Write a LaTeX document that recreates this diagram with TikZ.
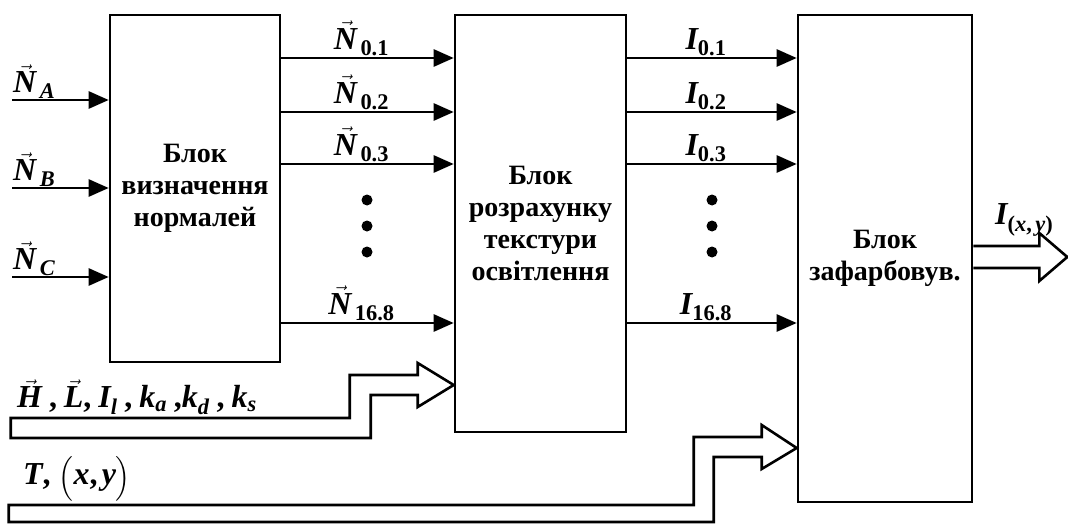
\documentclass[tikz,border=0pt]{standalone}
\usepackage{amsmath}
\usepackage{fontspec}
\setmainfont{Liberation Serif}
\usetikzlibrary{arrows.meta,positioning}
\tikzset{
  blok/.style={draw, line width=2.6pt, align=center, inner sep=0pt,
               font=\fontsize{28}{32}\selectfont\bfseries},
  strilka/.style={line width=2.6pt, -{Triangle[length=20pt,width=17pt]}},
  shyna/.style={line width=2.6pt, line join=miter},
  mitka/.style={font=\fontsize{32}{36}\selectfont, inner sep=1pt}
}
\newcommand\bi[1]{\text{\bfseries\itshape #1}}
\newcommand\bu[1]{\text{\bfseries\upshape #1}}
\newcommand\vbi[1]{\vec{\bi{#1}}}

\begin{document}
\begin{tikzpicture}[x=1pt,y=-1pt]
  \useasboundingbox (0,0) rectangle (1068,527);

  % bloky
  \node[blok, minimum width=170pt, minimum height=347pt] (b1) at (195,188.5)
    {Блок\\визначення\\нормалей};
  \node[blok, minimum width=171pt, minimum height=417pt] (b2) at (540.5,223.5)
    {Блок\\розрахунку\\текстури\\освітлення};
  \node[blok, minimum width=174pt, minimum height=487pt] (b3) at (885,258.5)
    {Блок\\зафарбовув.};

  % vkhidni normali
  \foreach \y/\s [count=\i] in {100/A, 188/B, 277/C}{
    \coordinate (vh\i) at (12,\y);
    \draw[strilka] (vh\i) -- (b1.west |- vh\i);
    \node[mitka, anchor=south west] (nv\i) at (vh\i) {$\vbi{N}_{\,\bi{\s}}$};
  }

  % zv'yazky mizh blokamy
  \foreach \y/\n [count=\i] in {58/0.1, 112/0.2, 164/0.3, 323/16.8}{
    \draw[strilka] (b1.east |- 0,\y) -- node[mitka, above, xshift=-6pt] (nn\i) {$\vbi{N}_{\,\bu{\n}}$} (b2.west |- 0,\y);
    \draw[strilka] (b2.east |- 0,\y) -- node[mitka, above, xshift=-6pt] (ni\i) {$\bi{I}_{\bu{\n}}$} (b3.west |- 0,\y);
  }

  \foreach \y in {200,226,252}{
    \fill (367,\y) circle[radius=5.5pt];
    \fill (712,\y) circle[radius=5.5pt];
  }

  % shyny
  \coordinate (hT) at (b2.west |- 0,385);
  \draw[shyna] (hT) -- ++(-36,-22) -- ++(0,12) -- ++(-68,0) -- ++(0,43)
    -- ++(-339,0) -- ++(0,20) -- ++(360,0) -- ++(0,-43) -- ++(47,0)
    -- ++(0,12) -- cycle;
  \node[mitka, anchor=south west] (lh) at (16,416)
    {$\vbi{H}\;\bu{,}\;\vbi{L}\bu{,}\;\bi{I}_{\bi{l}}\;\bu{,}\;\bi{k}_{\bi{a}}\;\bu{,}\bi{k}_{\bi{d}}\;\bu{,}\;\bi{k}_{\bi{s}}$};

  \coordinate (tT) at (b3.west |- 0,448);
  \draw[shyna] (tT) -- ++(-35,-23) -- ++(0,12) -- ++(-68,0) -- ++(0,68)
    -- ++(-685,0) -- ++(0,17) -- ++(705,0) -- ++(0,-65) -- ++(48,0)
    -- ++(0,12) -- cycle;
  \node[mitka, anchor=south west] (lt) at (22,502)
    {$\bi{T}\bu{,}\ \Bigl(\bi{x}\bu{,}\,\bi{y}\Bigr)$};

  \draw[shyna] (b3.east |- 0,246) -- ++(66,0) -- ++(0,-13) -- ++(28,24)
    -- ++(-28,24) -- ++(0,-13) -- ++(-66,0);
  \node[mitka, anchor=south west] (lo) at (994,238)
    {$\bi{I}_{\bu{(}\bi{x}\bu{,}\,\bi{y}\bu{)}}$};
\end{tikzpicture}
\end{document}
